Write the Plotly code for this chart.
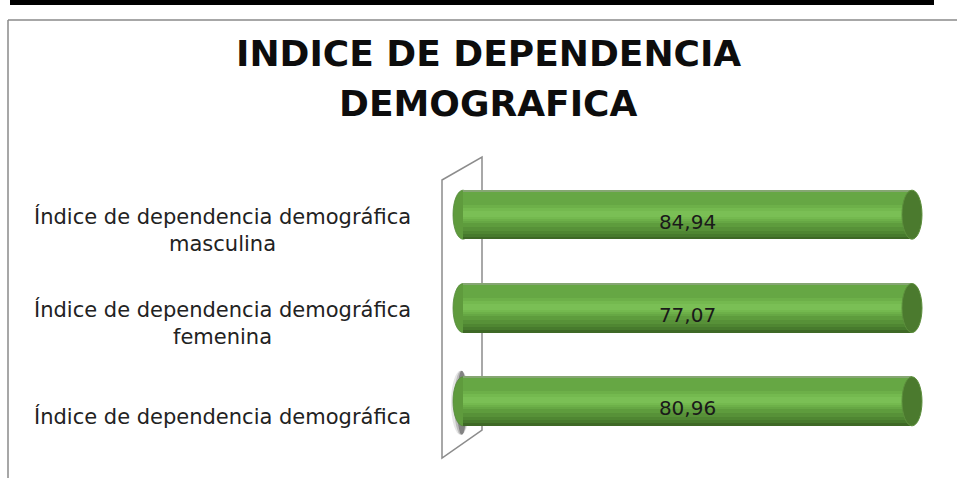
import plotly.graph_objects as go

# ---------------- data ----------------
categories = [
    "Índice de dependencia demográfica masculina",
    "Índice de dependencia demográfica femenina",
    "Índice de dependencia demográfica",
]
category_labels = [
    "Índice de dependencia demográfica<br>masculina",
    "Índice de dependencia demográfica<br>femenina",
    "Índice de dependencia demográfica",
]
values = [84.94, 77.07, 80.96]
value_labels = ["84,94", "77,07", "80,96"]
title_lines = ["INDICE DE DEPENDENCIA", "DEMOGRAFICA"]

# ---------------- geometry (pixels) ----------------
W, H = 957, 478
ML, MR, MT, MB = 440, 18, 168, 30
PW, PH = W - ML - MR, H - MT - MB
BAR_START_PX, BAR_END_PX = 463, 912
UNIT_PX = BAR_END_PX - BAR_START_PX
XRANGE = [(ML - BAR_START_PX) / UNIT_PX, (W - MR - BAR_START_PX) / UNIT_PX]
CAT_PX = PH / len(categories)
YRANGE = [len(categories) - 0.5, -0.5]


def py(p):  # pixel y -> paper y
    return (H - MB - p) / PH


def px(p):  # pixel x -> paper x
    return (p - ML) / PW


def cy(p):  # pixel offset -> category units
    return p / CAT_PX


HALF = 24.5  # half bar thickness in px

fig = go.Figure()

# cylinder body built from shading layers; each layer sits on its own overlaid
# y axis so that the 100 % normalisation (barnorm) applies to each separately
layers = [
    (-HALF, HALF, "#3e6826"),
    (-23.5, 22, "#477a2d"),
    (-23.5, 19, "#4f8632"),
    (-23.5, 16, "#579138"),
    (-23.5, 12, "#5e9c3d"),
    (-23.5, 8, "#66a744"),
    (-10, 6, "#6db049"),
    (-7, 4, "#74b94f"),
    (-4, 2, "#7abf55"),
    (-HALF, -23, "#86a673"),
]
axis_layout = {}
n = 0
for top, bot, col in layers:
    n += 1
    yname = "y" if n == 1 else f"y{n}"
    fig.add_trace(go.Bar(
        y=categories, x=values, orientation="h", yaxis=yname,
        width=cy(bot - top), offset=cy(top),
        marker=dict(color=col, line=dict(width=0)),
        hoverinfo="skip", showlegend=False,
    ))

# value labels (transparent full bar carrying the text)
n += 1
fig.add_trace(go.Bar(
    y=categories, x=values, orientation="h", yaxis=f"y{n}",
    width=cy(2 * HALF), offset=cy(-HALF + 7),
    marker=dict(color="rgba(0,0,0,0)", line=dict(width=0)),
    text=value_labels, textposition="inside", insidetextanchor="middle",
    constraintext="none",
    textfont=dict(family="DejaVu Sans", size=20, color="#1a1a1a"),
    hoverinfo="skip", showlegend=False,
))

base_y = dict(range=YRANGE, showticklabels=False, showgrid=False,
              zeroline=False, showline=False, ticks="",
              categoryorder="array", categoryarray=categories)
for k in range(2, n + 1):
    axis_layout[f"yaxis{k}"] = dict(base_y, overlaying="y", visible=False)

shapes = []
# frame
shapes.append(dict(type="rect", xref="paper", yref="paper",
                   x0=px(10), x1=px(934), y0=py(0), y1=py(5),
                   fillcolor="black", line=dict(width=0), layer="below"))
shapes.append(dict(type="line", xref="paper", yref="paper",
                   x0=px(8), x1=px(W + 5), y0=py(20), y1=py(20),
                   line=dict(color="#8a8a8a", width=1.5)))
shapes.append(dict(type="line", xref="paper", yref="paper",
                   x0=px(8), x1=px(8), y0=py(20), y1=py(H + 5),
                   line=dict(color="#8a8a8a", width=1.5)))
# back wall
shapes.append(dict(
    type="path", xref="paper", yref="paper", layer="below",
    path=f"M {px(442)},{py(180)} L {px(482)},{py(157)} L {px(482)},{py(430)} L {px(442)},{py(458)} Z",
    line=dict(color="#8c8c8c", width=1.5), fillcolor="rgba(0,0,0,0)"))
# shadow at bottom bar
last = len(categories) - 1
for dx, alpha in [(12, 0.12), (9, 0.22), (6, 0.38)]:
    shapes.append(dict(type="circle", xref="x", yref="y", layer="below",
                       x0=-dx / UNIT_PX, x1=dx / UNIT_PX * 0.6,
                       y0=last - cy(HALF + 6), y1=last + cy(HALF + 9),
                       fillcolor=f"rgba(40,40,40,{alpha})", line=dict(width=0)))
# left and right caps
for i, v in enumerate(values):
    shapes.append(dict(type="circle", xref="x", yref="y", layer="below",
                       x0=-10 / UNIT_PX, x1=10 / UNIT_PX,
                       y0=i - cy(HALF), y1=i + cy(HALF),
                       fillcolor="#5f9b3d", line=dict(color="#54893a", width=0.8)))
    shapes.append(dict(type="circle", xref="x", yref="y", layer="above",
                       x0=1 - 10 / UNIT_PX, x1=1 + 10 / UNIT_PX,
                       y0=i - cy(HALF), y1=i + cy(HALF),
                       fillcolor="#4b7a2e", line=dict(color="#5d8f3d", width=1)))

annotations = []
for i, lab in enumerate(category_labels):
    annotations.append(dict(
        text=lab, xref="paper", yref="y", x=px(222), y=i, yshift=-15,
        xanchor="center", yanchor="middle", align="center", showarrow=False,
        font=dict(family="DejaVu Sans", size=21, color="#222222"),
    ))
for t, ypx in zip(title_lines, [54, 104]):
    annotations.append(dict(
        text=t, xref="paper", yref="paper", x=px(488), y=py(ypx),
        xanchor="center", yanchor="middle", showarrow=False,
        font=dict(family="DejaVu Sans", size=36, color="#0d0d0d", weight="bold"),
    ))

fig.update_layout(
    width=W, height=H,
    margin=dict(l=ML, r=MR, t=MT, b=MB, pad=0),
    paper_bgcolor="white", plot_bgcolor="white",
    barmode="stack", barnorm="fraction",
    showlegend=False,
    xaxis=dict(range=XRANGE, visible=False, showgrid=False, zeroline=False),
    yaxis=base_y,
    shapes=shapes, annotations=annotations,
    **axis_layout,
)

fig.write_html(
    "out.html",
    config={"displayModeBar": False},
    post_script="document.body.style.margin='0';document.body.style.padding='0';",
)
